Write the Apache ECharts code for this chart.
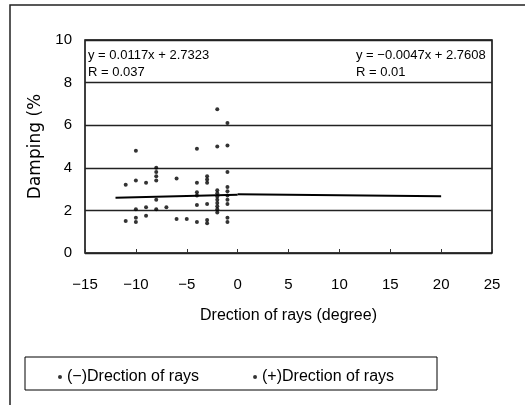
<!DOCTYPE html>
<html>
<head>
<meta charset="utf-8">
<script src="https://cdn.jsdelivr.net/npm/echarts@6/dist/echarts.min.js"></script>
<style>
  html, body { margin: 0; padding: 0; background: #fff; }
  #chart { width: 525px; height: 405px; }
</style>
</head>
<body>
<div id="chart"></div>
<script>
// scatter points, [direction, damping]
const negPoints = [
  [-11, 3.2], [-11, 1.5],
  [-10, 4.8], [-10, 3.4], [-10, 2.05], [-10, 1.65], [-10, 1.45],
  [-8, 4.0], [-8, 3.8], [-8, 3.6], [-8, 3.4], [-8, 2.5], [-8, 2.05],
  [-6, 3.5], [-6, 1.6],
  [-4, 4.9], [-4, 3.3], [-4, 2.85], [-4, 2.7], [-4, 2.25], [-4, 1.45],
  [-2, 6.75], [-2, 5.0], [-2, 2.95], [-2, 2.8], [-2, 2.65], [-2, 2.5],
  [-2, 2.35], [-2, 2.2], [-2, 2.05], [-2, 1.9]
];
const posPoints = [
  [-9, 3.3], [-9, 2.15], [-9, 1.75],
  [-7, 2.15],
  [-5, 1.6],
  [-3, 3.6], [-3, 3.45], [-3, 3.3], [-3, 2.3], [-3, 1.55], [-3, 1.4],
  [-1, 6.1], [-1, 5.05], [-1, 3.8], [-1, 3.1], [-1, 2.9], [-1, 2.7],
  [-1, 2.5], [-1, 2.3], [-1, 1.65], [-1, 1.45]
];
// trend line end points
const trendNeg = [[-12, 2.59], [0, 2.73]];
const trendPos = [[0, 2.76], [20, 2.67]];

const seriesNames = ['(\u2212)Drection of rays', '(+)Drection of rays'];
const eqNeg = ['y = 0.0117x + 2.7323', 'R = 0.037'];
const eqPos = ['y = \u22120.0047x + 2.7608', 'R = 0.01'];

const font = 'Liberation Sans, Arial, sans-serif';
const chart = echarts.init(document.getElementById('chart'));

const option = {
  animation: false,
  backgroundColor: '#fff',
  textStyle: { fontFamily: font },
  grid: {
    left: 85, right: 33, top: 40, bottom: 152,
    show: true, borderColor: '#000', borderWidth: 1.5
  },
  legend: {
    data: seriesNames,
    left: 53, top: 364,
    icon: 'circle', itemWidth: 4, itemHeight: 4, itemGap: 54,
    textStyle: { fontSize: 16, color: '#000', fontFamily: font }
  },
  xAxis: {
    type: 'value', min: -15, max: 25, interval: 5,
    name: 'Drection of rays (degree)', nameLocation: 'middle', nameGap: 55,
    nameTextStyle: { fontSize: 16, color: '#000' },
    axisLine: { show: false },
    axisTick: { inside: true, length: 4, lineStyle: { color: '#333' } },
    axisLabel: {
      fontSize: 15, color: '#000', margin: 24,
      formatter: (v) => String(v).replace('-', '\u2212')
    },
    splitLine: { show: false }
  },
  yAxis: {
    type: 'value', min: 0, max: 10, interval: 2,
    name: 'Damping (%', nameLocation: 'middle', nameGap: 40,
    nameTextStyle: { fontSize: 17, color: '#000', fontFamily: 'DejaVu Sans' },
    axisLine: { show: false },
    axisTick: { show: false },
    axisLabel: { fontSize: 15, color: '#000', margin: 13 },
    splitLine: { lineStyle: { color: '#222', width: 1.4 } }
  },
  graphic: [
    { type: 'rect', shape: { x: 10, y: 5, width: 530, height: 420 },
      style: { fill: 'none', stroke: '#222', lineWidth: 1.5 }, silent: true },
    { type: 'rect', shape: { x: 25, y: 357, width: 412, height: 33 },
      style: { fill: 'none', stroke: '#000', lineWidth: 1 }, silent: true },
    { type: 'text', left: 88, top: 49,
      style: { text: eqNeg[0], font: '13px ' + font, fill: '#000' } },
    { type: 'text', left: 88, top: 66,
      style: { text: eqNeg[1], font: '13px ' + font, fill: '#000' } },
    { type: 'text', left: 356, top: 49,
      style: { text: eqPos[0], font: '13px ' + font, fill: '#000' } },
    { type: 'text', left: 356, top: 66,
      style: { text: eqPos[1], font: '13px ' + font, fill: '#000' } }
  ],
  series: [
    {
      name: seriesNames[0], type: 'scatter', data: negPoints,
      symbolSize: 4, itemStyle: { color: '#000' }, z: 3
    },
    {
      name: seriesNames[1], type: 'scatter', data: posPoints,
      symbolSize: 4, itemStyle: { color: '#000' }, z: 3
    },
    {
      type: 'line', data: trendNeg, showSymbol: false,
      lineStyle: { color: '#000', width: 2 }
    },
    {
      type: 'line', data: trendPos, showSymbol: false,
      lineStyle: { color: '#000', width: 2 }
    }
  ]
};

chart.setOption(option);
</script>
</body>
</html>
